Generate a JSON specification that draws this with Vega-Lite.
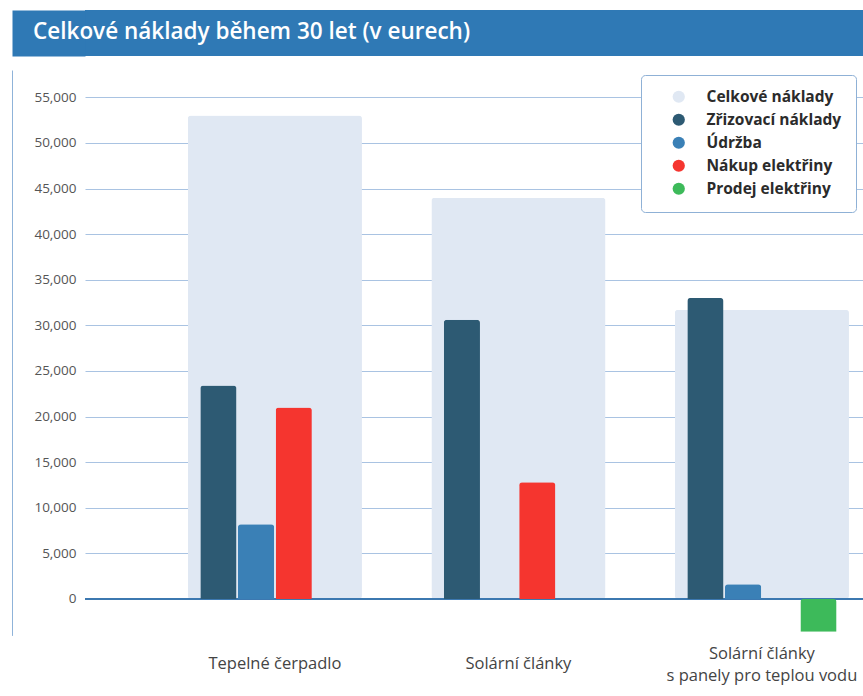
{
  "$schema": "https://vega.github.io/schema/vega-lite/v6.json",
  "padding": {"left": 12, "top": 10, "right": 0, "bottom": 6},
  "autosize": {"type": "pad"},
  "spacing": 14,
  "config": {
    "view": {"stroke": null},
    "font": "Open Sans"
  },
  "data": {
    "values": [
      {"kategorie": "Tepelné čerpadlo", "polozka": "Celkové náklady", "hodnota": 53000},
      {"kategorie": "Tepelné čerpadlo", "polozka": "Zřizovací náklady", "hodnota": 23400},
      {"kategorie": "Tepelné čerpadlo", "polozka": "Údržba", "hodnota": 8200},
      {"kategorie": "Tepelné čerpadlo", "polozka": "Nákup elektřiny", "hodnota": 21000},
      {"kategorie": "Solární články", "polozka": "Celkové náklady", "hodnota": 44000},
      {"kategorie": "Solární články", "polozka": "Zřizovací náklady", "hodnota": 30600},
      {"kategorie": "Solární články", "polozka": "Nákup elektřiny", "hodnota": 12800},
      {"kategorie": "Solární články s panely pro teplou vodu", "polozka": "Celkové náklady", "hodnota": 31700},
      {"kategorie": "Solární články s panely pro teplou vodu", "polozka": "Zřizovací náklady", "hodnota": 33000},
      {"kategorie": "Solární články s panely pro teplou vodu", "polozka": "Údržba", "hodnota": 1600},
      {"kategorie": "Solární články s panely pro teplou vodu", "polozka": "Prodej elektřiny", "hodnota": -3600}
    ]
  },
  "vconcat": [
    {
      "width": 778,
      "height": 46,
      "data": {"values": [{"nadpis": "Celkové náklady během 30 let (v eurech)"}]},
      "view": {"fill": "#2f79b5", "stroke": null},
      "mark": {
        "type": "text",
        "align": "left",
        "baseline": "middle",
        "dx": -52,
        "dy": -1,
        "color": "#ffffff",
        "font": "Open Sans",
        "fontSize": 22.5,
        "fontWeight": 600
      },
      "encoding": {
        "text": {"field": "nadpis", "type": "nominal"},
        "x": {
          "field": "nadpis",
          "type": "nominal",
          "scale": {"type": "point", "padding": 0, "align": 0},
          "axis": null
        },
        "y": {
          "field": "nadpis",
          "type": "nominal",
          "scale": {"type": "point", "padding": 0.5},
          "axis": {
            "title": null,
            "labels": false,
            "ticks": false,
            "grid": false,
            "domain": true,
            "domainColor": "#2f79b5",
            "domainWidth": 73,
            "domainCap": "butt",
            "offset": 36.5
          }
        }
      }
    },
    {
      "width": 778,
      "height": 565.4,
      "resolve": {"axis": {"y": "independent"}},
      "layer": [
        {
          "transform": [{"filter": "datum.polozka === 'Celkové náklady'"}],
          "mark": {"type": "bar", "cornerRadius": 3},
          "encoding": {
            "x": {
              "field": "kategorie",
              "type": "nominal",
              "sort": null,
              "scale": {"paddingInner": 0.285, "paddingOuter": 0.24, "align": 0.88},
              "axis": {
                "title": null,
                "orient": "bottom",
                "domain": false,
                "ticks": false,
                "labelAngle": 0,
                "labelPadding": {
                  "condition": {"test": "datum.value == 'Solární články s panely pro teplou vodu'", "value": 18},
                  "value": 28
                },
                "labelFont": "Open Sans",
                "labelFontSize": 16.5,
                "labelColor": "#444444",
                "labelBaseline": "middle",
                "labelLineHeight": 22,
                "labelLimit": 0,
                "labelExpr": "datum.value == 'Solární články s panely pro teplou vodu' ? ['Solární články', 's panely pro teplou vodu'] : datum.value"
              }
            },
            "y": {
              "field": "hodnota",
              "type": "quantitative",
              "scale": {"domain": [-4000, 58000], "nice": false, "zero": false},
              "axis": {
                "title": null,
                "orient": "left",
                "values": [0, 5000, 10000, 15000, 20000, 25000, 30000, 35000, 40000, 45000, 50000, 55000],
                "labelExpr": "format(datum.value, ',')",
                "grid": true,
                "gridColor": "#a9c3e2",
                "gridWidth": 1,
                "domain": false,
                "ticks": false,
                "labelPadding": 9,
                "labelFont": "Open Sans",
                "labelFontSize": 13.5,
                "labelColor": "#555555"
              }
            },
            "color": {
              "field": "polozka",
              "type": "nominal",
              "scale": {
                "domain": ["Celkové náklady", "Zřizovací náklady", "Údržba", "Nákup elektřiny", "Prodej elektřiny"],
                "range": ["#e0e8f3", "#2d5a73", "#3a80b6", "#f5352f", "#3dba5a"]
              },
              "legend": {
                "title": null,
                "orient": "none",
                "legendX": 556,
                "legendY": 65,
                "fillColor": "#ffffff",
                "strokeColor": "#8fb1d6",
                "cornerRadius": 4,
                "padding": 14,
                "symbolType": "circle",
                "symbolSize": 150,
                "symbolStrokeWidth": 0,
                "symbolOffset": 16,
                "labelOffset": 20,
                "rowPadding": 6,
                "labelFont": "Open Sans",
                "labelFontWeight": "bold",
                "labelFontSize": 15.5,
                "labelColor": "#2b2b2b",
                "labelLimit": 0
              }
            }
          }
        },
        {
          "mark": {"type": "rule", "color": "#3c78b0", "strokeWidth": 2},
          "encoding": {
            "y": {
              "datum": 0,
              "type": "quantitative",
              "axis": {
                "title": null,
                "orient": "left",
                "offset": 73,
                "labels": false,
                "ticks": false,
                "grid": false,
                "domain": true,
                "domainColor": "#8fb3d9",
                "domainWidth": 1
              }
            }
          }
        },
        {
          "transform": [{"filter": "datum.polozka !== 'Celkové náklady'"}],
          "mark": {"type": "bar", "cornerRadiusEnd": 3},
          "encoding": {
            "x": {
              "field": "kategorie",
              "type": "nominal",
              "sort": null
            },
            "xOffset": {
              "field": "polozka",
              "type": "nominal",
              "scale": {
                "domain": ["Zřizovací náklady", "Údržba", "Nákup elektřiny", "Prodej elektřiny"],
                "paddingInner": 0.04,
                "paddingOuter": 0.33
              }
            },
            "y": {
              "field": "hodnota",
              "type": "quantitative",
              "axis": null
            },
            "color": {"field": "polozka", "type": "nominal"}
          }
        }
      ]
    }
  ]
}
